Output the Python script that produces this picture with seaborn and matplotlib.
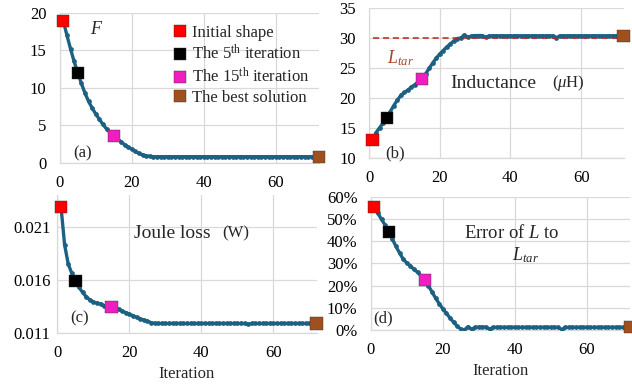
import numpy as np
import pandas as pd
import matplotlib
matplotlib.use("Agg")
import matplotlib.pyplot as plt
import seaborn as sns
from matplotlib.ticker import FuncFormatter, FixedLocator

# ---------------- data ----------------
iterations = list(range(1, 73))

objective_F = [
    18.9, 17.0, 15.2, 13.5, 12.0, 10.6, 9.3, 8.2, 7.3, 6.5,
    5.8, 5.1, 4.5, 4.0, 3.6, 3.2, 2.8, 2.4, 2.1, 1.8,
    1.5, 1.25, 1.05, 0.92, 0.85, 0.8, 0.8, 0.8, 0.8, 0.8,
    0.8, 0.8, 0.8, 0.8, 0.8, 0.8, 0.8, 0.8, 0.8, 0.8,
    0.8, 0.8, 0.8, 0.8, 0.8, 0.8, 0.8, 0.8, 0.8, 0.8,
    0.8, 0.8, 0.8, 0.8, 0.8, 0.8, 0.8, 0.8, 0.8, 0.8,
    0.8, 0.8, 0.8, 0.8, 0.8, 0.8, 0.8, 0.8, 0.8, 0.8,
    0.8, 0.8,
]

inductance_uH = [
    13.0, 14.2, 15.0, 15.8, 16.6, 17.7, 18.7, 19.6, 20.4, 20.9,
    21.3, 21.8, 22.2, 22.7, 23.2, 24.0, 24.9, 25.8, 26.6, 27.3,
    27.9, 28.5, 29.0, 29.5, 29.9, 30.0, 30.5, 30.1, 30.35, 30.4,
    30.4, 30.4, 30.1, 30.35, 30.35, 30.35, 30.35, 30.35, 30.35, 30.35,
    30.35, 30.35, 30.35, 30.35, 30.35, 30.35, 30.35, 30.35, 30.35, 30.35,
    30.35, 30.35, 30.05, 30.35, 30.35, 30.35, 30.35, 30.35, 30.35, 30.35,
    30.35, 30.35, 30.35, 30.35, 30.35, 30.35, 30.35, 30.35, 30.35, 30.35,
    30.35, 30.35,
]

joule_loss_W = [
    0.0229, 0.0193, 0.0175, 0.0166, 0.0159, 0.0153, 0.0148, 0.0144, 0.0141, 0.0139,
    0.0138, 0.0137, 0.01355, 0.01345, 0.0134, 0.01333, 0.0132, 0.01305, 0.0129, 0.01275,
    0.0126, 0.01245, 0.0123, 0.0122, 0.0121, 0.01195, 0.01188, 0.01187, 0.01187, 0.01187,
    0.01187, 0.01187, 0.01187, 0.01187, 0.01187, 0.01187, 0.01187, 0.01187, 0.01187, 0.01187,
    0.01187, 0.01187, 0.01187, 0.01187, 0.01187, 0.01187, 0.01187, 0.01187, 0.01187, 0.01187,
    0.01187, 0.01187, 0.0118, 0.01187, 0.01187, 0.01187, 0.01187, 0.01187, 0.01187, 0.01187,
    0.01187, 0.01187, 0.01187, 0.01187, 0.01187, 0.01187, 0.01187, 0.01187, 0.01187, 0.01187,
    0.01187, 0.01187,
]

error_pct = [
    55.5, 52.5, 49.8, 47.2, 44.2, 41.0, 37.7, 34.7, 32.0, 30.2,
    28.9, 27.3, 26.0, 24.3, 22.5, 20.0, 17.2, 14.4, 11.9, 9.6,
    7.5, 5.5, 3.5, 1.8, 0.4, 0.0, 1.5, 0.3, 1.2, 1.3,
    1.3, 1.3, 0.4, 1.2, 1.2, 1.2, 1.2, 1.2, 1.2, 1.2,
    1.2, 1.2, 1.2, 1.2, 1.2, 1.2, 1.2, 1.2, 1.2, 1.2,
    1.2, 1.2, 0.2, 1.2, 1.2, 1.2, 1.2, 1.2, 1.2, 1.2,
    1.2, 1.2, 1.2, 1.2, 1.2, 1.2, 1.2, 1.2, 1.2, 1.2,
    1.2, 1.2,
]

L_target = 30
highlight_iters = [1, 5, 15, 72]
highlight_labels = ["Initial shape",
                    "The 5$^{\\mathrm{th}}$ iteration",
                    "The 15$^{\\mathrm{th}}$ iteration",
                    "The best solution"]
highlight_colors = ["#FF0000", "#000000", "#F01EC0", "#A0501E"]

x_ticks = [0, 20, 40, 60]
F_ticks = [0, 5, 10, 15, 20]
L_ticks = [10, 15, 20, 25, 30, 35]
J_ticks = [0.011, 0.016, 0.021]
E_ticks = [0, 10, 20, 30, 40, 50, 60]

# ---------------- style ----------------
sns.set_theme(style="whitegrid")
SERIF = ["Liberation Serif", "DejaVu Serif"]
plt.rcParams["font.family"] = SERIF
plt.rcParams["font.serif"] = SERIF
plt.rcParams["mathtext.fontset"] = "custom"
plt.rcParams["mathtext.rm"] = "Liberation Serif"
plt.rcParams["mathtext.it"] = "Liberation Serif:italic"
plt.rcParams["mathtext.bf"] = "Liberation Serif:bold"

LINE = "#1D6182"
GRID = "#D9D9D9"
W, H = 632, 385

df = pd.DataFrame({"iter": iterations, "F": objective_F, "L": inductance_uH,
                   "J": joule_loss_W, "E": error_pct})
hdf = df[df["iter"].isin(highlight_iters)].copy()
hdf["label"] = highlight_labels

fig = plt.figure(figsize=(W / 100, H / 100), dpi=100)

def box(l, r, t, b):
    return [l / W, 1 - b / H, (r - l) / W, (b - t) / H]

axA = fig.add_axes(box(59.7, 319, 12.7, 162.7))
axB = fig.add_axes(box(369, 623.5, 8, 157.7))
axC = fig.add_axes(box(57.4, 316.6, 195, 332.7))
axD = fig.add_axes(box(370.7, 630, 196.7, 330))

def style(ax, col, yticks, ylim, ypad, legend=False):
    sns.lineplot(data=df, x="iter", y=col, ax=ax, color=LINE, lw=2.4,
                 marker="o", markersize=3.4, markeredgewidth=0, zorder=3)
    sns.scatterplot(data=hdf, x="iter", y=col, hue="label", palette=highlight_colors,
                    hue_order=highlight_labels, marker="s", s=78, linewidth=0.3,
                    edgecolor="#333333", ax=ax, zorder=6, clip_on=False, legend=legend)
    ax.set_xlim(0, 72)
    ax.set_ylim(*ylim)
    ax.xaxis.set_major_locator(FixedLocator(x_ticks))
    ax.yaxis.set_major_locator(FixedLocator(yticks))
    ax.grid(True, color=GRID, lw=0.9)
    for s in ["top", "right"]:
        ax.spines[s].set_visible(False)
    for s in ["left", "bottom"]:
        ax.spines[s].set_color(GRID)
        ax.spines[s].set_linewidth(0.9)
    ax.tick_params(axis="both", length=0, labelsize=12, colors="black",
                   labelfontfamily="Liberation Serif")
    ax.tick_params(axis="x", pad=9)
    ax.tick_params(axis="y", pad=ypad)
    ax.set_xlabel("")
    ax.set_ylabel("")
    ax.set_facecolor("white")

style(axA, "F", F_ticks, (0, 20), 9.5, legend=True)
style(axB, "L", L_ticks, (10, 35), 9.5)
style(axC, "J", J_ticks, (0.011, 0.024), 5)
style(axD, "E", E_ticks, (0, 60), 9.5)

axC.yaxis.set_major_formatter(FuncFormatter(lambda v, p: f"{v:.3f}"))
axD.yaxis.set_major_formatter(FuncFormatter(lambda v, p: f"{v:.0f}%"))
for ax in (axA, axB, axC, axD):
    for lab in ax.get_xticklabels() + ax.get_yticklabels():
        lab.set_fontfamily("Liberation Serif")

axB.hlines(L_target, 1, 72, colors="#C8201E", linestyles=(0, (4, 2.5)), lw=1.1, zorder=4)

for ax in (axC, axD):
    ax.set_xlabel("Iteration", fontsize=12, labelpad=3.5, fontfamily="Liberation Serif")

# legend
h, l = axA.get_legend_handles_labels()
axA.legend(h, l, loc="upper left", bbox_to_anchor=(166 / W, 1 - 17 / H),
           bbox_transform=fig.transFigure, frameon=False, fontsize=12,
           borderpad=0, handlelength=0.7, handletextpad=0.35, labelspacing=0.2,
           markerscale=1.0)

def ftext(x, y, s, **kw):
    kw.setdefault("fontsize", 12)
    kw.setdefault("va", "center")
    fig.text(x / W, 1 - y / H, s, **kw)

ftext(97, 30, "$F$", fontsize=13, ha="center")
ftext(83, 153, "(a)", ha="center")
ftext(395, 153, "(b)", ha="center")
ftext(80, 318, "(c)", ha="center")
ftext(383, 318, "(d)", ha="center")
ftext(450, 83, "Inductance", fontsize=14, ha="left")
ftext(552, 83, "($\\mu$H)", fontsize=12, ha="left")
ftext(387, 58, "$L_{tar}$", fontsize=13, ha="left", color="#A5452A")
ftext(134, 233, "Joule loss", fontsize=14, ha="left")
ftext(222, 233, "(W)", fontsize=12, ha="left")
ftext(464, 233, "Error $\\mathregular{of}$ $L$ to", fontsize=13.5, ha="left")
ftext(512, 255, "$L_{tar}$", fontsize=13, ha="left")

fig.savefig("out.png", dpi=100)
